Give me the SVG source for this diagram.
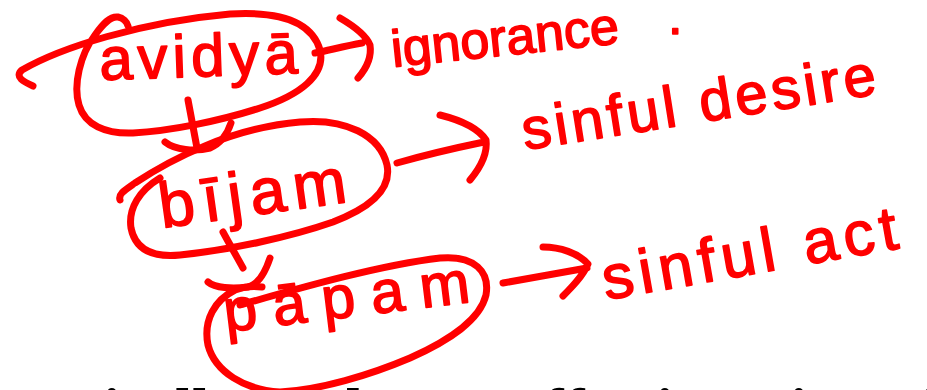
<svg xmlns="http://www.w3.org/2000/svg" width="927" height="390" viewBox="0 0 927 390">
<style>
.ink{fill:none;stroke:#ff0000;stroke-width:7;stroke-linecap:round;stroke-linejoin:round}
.hw{font-family:"Liberation Sans",Arial,sans-serif;fill:#ff0000;stroke:#ff0000;stroke-width:1.6;stroke-linejoin:round}
.bg{font-family:"Liberation Serif","Times New Roman",serif;font-weight:bold;font-size:62px;fill:#000000}
</style>
<rect width="927" height="390" fill="#ffffff"/>
<text class="bg" y="431"><tspan x="0 21 44 103 121 148 175 192 209">tatically</tspan><tspan x="240 252 283 328"> and</tspan><tspan x="460 475 500 543 564 590 620 656 674 708"> suffering</tspan><tspan x="775 790 808"> in</tspan><tspan x="900 917"> f</tspan></text>
<g id="connectors">
<path class="ink" d="M315,53 C330,50 345,46 362,43 M340,18 C352,25 366,35 370,45 C372,58 365,70 358,78"/>
<path class="ink" d="M188,100 L197,148 M165,142 C175,150 195,152 210,148 C222,143 228,132 231,123"/>
<path class="ink" d="M397,163 C425,155 455,148 484,142 M440,115 C460,120 478,128 486,140 C488,155 480,168 470,180"/>
<path class="ink" d="M223,232 C230,245 237,257 243,268 M208,282 C215,288 232,289 248,287 C260,284 266,270 270,258"/>
<path class="ink" d="M503,283 C530,278 560,273 587,268 M543,247 C560,247 578,253 588,264 C583,276 572,287 563,296"/>
</g>
<g id="avidya">
<path class="ink" d="M33,86 C24,82 14,77 22,70 C60,48 140,22 230,14 C280,11 312,22 320,50 C326,75 300,95 260,108 C220,121 170,131 133,133 C105,134 85,125 79,105 C73,85 80,55 95,35 C103,24 110,16 118,17 C123,18 127,22 128,26"/>
<text class="hw" x="100" y="80" font-size="60" letter-spacing="5" transform="rotate(-2 100 80)">avidyā</text>
</g>
<g id="ignorance">
<text class="hw" x="393" y="67" font-size="52" transform="rotate(-6 393 67)">ignorance</text>
<text class="hw" x="668" y="34" font-size="52">.</text>
</g>
<g id="bijam">
<path class="ink" d="M120,200 C118,194 125,190 135,183 C170,160 230,128 300,122 C345,118 380,135 387,165 C392,190 370,208 333,222 C290,237 230,250 180,255 C150,258 135,248 131,228 C128,208 140,190 160,178"/>
<text class="hw" x="162" y="228" font-size="64" letter-spacing="8" transform="rotate(-8 162 228)">bījam</text>
</g>
<g id="sinful-desire">
<text class="hw" x="525" y="150" font-size="58" letter-spacing="4" transform="rotate(-9 525 150)">sinful desire</text>
</g>
<g id="papam">
<path class="ink" d="M240,305 C300,288 380,265 440,258 C475,255 490,272 486,295 C480,320 450,340 410,358 C370,375 320,390 280,392 C245,390 215,372 208,345 C203,320 215,300 235,290 C245,286 255,286 262,287"/>
<text class="hw" x="226" y="332" font-size="60" letter-spacing="16" transform="rotate(-7 226 332)">pāpam</text>
</g>
<g id="sinful-act">
<text class="hw" x="606" y="300" font-size="62" letter-spacing="6" transform="rotate(-10 606 300)">sinful act</text>
</g>
</svg>
